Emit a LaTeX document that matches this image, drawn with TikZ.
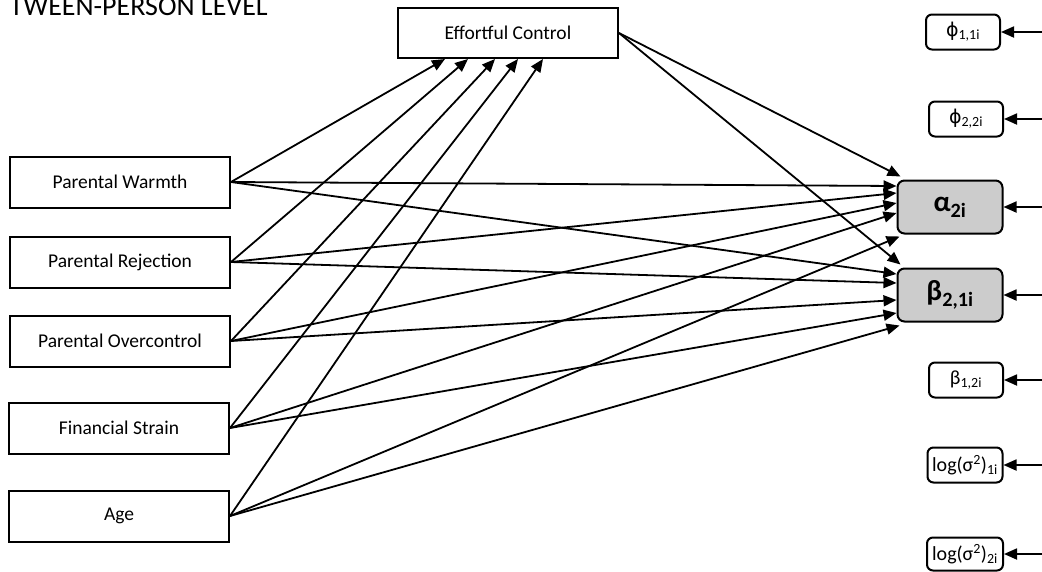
\documentclass[tikz,border=0pt]{standalone}
\usepackage{fontspec}
\setmainfont{Carlito}
\newfontfamily\djv{DejaVu Sans}
\usetikzlibrary{arrows.meta}
\tikzset{
  lbox/.style={draw, line width=2pt, minimum width=220pt, minimum height=51pt, inner sep=0pt, font=\fontsize{19.5}{22}\selectfont},
  rbox/.style={draw, line width=2pt, rounded corners=6pt, minimum width=74pt, minimum height=35pt, inner sep=1pt, font=\fontsize{20}{22}\selectfont},
  gbox/.style={draw, line width=2pt, rounded corners=7pt, fill=black!20, minimum width=105pt, minimum height=53pt, inner sep=0pt, font=\bfseries\fontsize{29}{31}\selectfont},
  arr/.style={line width=1.8pt, -{Triangle[length=13pt,width=11pt]}},
}
\begin{document}
\begin{tikzpicture}[x=1pt,y=-1pt]
\useasboundingbox (0,0) rectangle (1042,571);
\node[anchor=base east, font=\fontsize{28}{32}\selectfont, inner sep=0pt] (title) at (268,15) {TWEEN-PERSON LEVEL};
\node[lbox, minimum height=50pt] (ec) at (508,33) {Effortful Control};
\node[lbox] (pw) at (120,182) {Parental Warmth};
\node[lbox] (pr) at (120,262) {Parental Rejection};
\node[lbox] (po) at (120,341) {Parental Overcontrol};
\node[lbox] (fs) at (119,428) {Financial Strain};
\node[lbox] (age) at (119,516) {Age};
\node[rbox] (p11) at (963,32) {{\djv\fontsize{19}{20}\selectfont ϕ}\textsubscript{1,1i}};
\node[rbox] (p22) at (966,119) {{\djv\fontsize{19}{20}\selectfont ϕ}\textsubscript{2,2i}};
\node[gbox] (alpha) at (950,207) {α\textsubscript{2i}};
\node[gbox] (beta) at (950,295) {β\textsubscript{2,1i}};
\node[rbox] (b12) at (966,380) {β\textsubscript{1,2i}};
\node[rbox, minimum width=75pt, inner sep=0pt] (ls1) at (965,465) {log(σ\textsuperscript{2})\textsubscript{1i}};
\node[rbox, minimum width=76pt, inner sep=0pt, minimum height=33pt] (ls2) at (965,554) {log(σ\textsuperscript{2})\textsubscript{2i}};
% free ends at the right edge
\coordinate (rp11) at (1050,32);
\coordinate (rp22) at (1050,119);
\coordinate (ralpha) at (1050,207);
\coordinate (rbeta) at (1050,295);
\coordinate (rb12) at (1050,380);
\coordinate (rls1) at (1050,465);
\coordinate (rls2) at (1050,554);
\foreach \n in {p11,p22,alpha,beta,b12,ls1,ls2}{
  \draw[arr] (r\n) -- (\n.east);
}
% predictors to effortful control
\draw[arr] (pw.east) -- ([xshift=-63pt]ec.south);
\draw[arr] (pr.east) -- ([xshift=-40pt]ec.south);
\draw[arr] (po.east) -- ([xshift=-13pt]ec.south);
\draw[arr] (fs.east) -- ([xshift=10pt]ec.south);
\draw[arr] (age.east) -- ([xshift=35pt]ec.south);
% effortful control to alpha, beta
\draw[arr] (ec.east) -- ([xshift=4pt,yshift=3pt]alpha.north west);
\draw[arr] (ec.east) -- ([xshift=4pt,yshift=3pt]beta.north west);
% predictors to alpha
\draw[arr] (pw.east) -- ([yshift=21pt]alpha.west);
\draw[arr] (pr.east) -- ([yshift=14pt]alpha.west);
\draw[arr] (po.east) -- ([yshift=4pt]alpha.west);
\draw[arr] (fs.east) -- ([yshift=-6pt]alpha.west);
\draw[arr] (age.east) -- ([xshift=3pt,yshift=-2pt]alpha.south west);
% predictors to beta
\draw[arr] (pw.east) -- ([yshift=21pt]beta.west);
\draw[arr] (pr.east) -- ([yshift=12pt]beta.west);
\draw[arr] (po.east) -- ([yshift=-5pt]beta.west);
\draw[arr] (fs.east) -- ([yshift=-18pt]beta.west);
\draw[arr] (age.east) -- ([xshift=3pt,yshift=-3pt]beta.south west);
\end{tikzpicture}
\end{document}
